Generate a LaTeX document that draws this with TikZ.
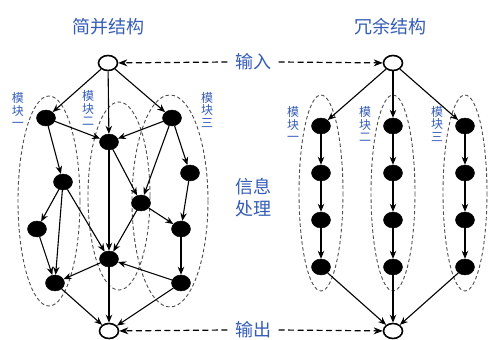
\documentclass[tikz,border=0pt]{standalone}
\usepackage{fontspec}
\newfontfamily\cjk{Noto Sans CJK SC}
\usetikzlibrary{arrows.meta,shapes.geometric}
\definecolor{lblue}{RGB}{52,92,182}
\tikzset{
  dot/.style={ellipse, fill=black, draw=black, minimum width=19pt, minimum height=16pt, inner sep=0pt},
  port/.style={ellipse, fill=white, draw=black, line width=1.6pt, minimum width=19pt, minimum height=15pt, inner sep=0pt},
  edge/.style={line width=1.1pt, -{Stealth[length=8pt,width=6.5pt]}},
  hint/.style={line width=1.2pt, dash pattern=on 6pt off 3.5pt, -{Stealth[length=9pt,width=7pt]}},
  module/.style={draw=black!70, line width=0.9pt, dash pattern=on 3.5pt off 2.5pt},
  title/.style={font=\cjk\fontsize{18}{20}\selectfont, text=lblue},
  side/.style={font=\cjk\fontsize{18}{22}\selectfont, text=lblue, align=center},
  vlabel/.style={font=\cjk\fontsize{12}{12.5}\selectfont, text=lblue, align=center, inner sep=0pt}
}
\begin{document}
\begin{tikzpicture}[x=1pt,y=-1pt]
\useasboundingbox (0,0) rectangle (488,340);
% left module ellipses
\draw[module] (49,201) ellipse [x radius=31, y radius=105];
\draw[module] (119,196) ellipse [x radius=31, y radius=94];
\draw[module] (170,201) ellipse [x radius=38, y radius=106];
% right module ellipses
\draw[module] (321,193) ellipse [x radius=22, y radius=98];
\draw[module] (393,193) ellipse [x radius=22, y radius=98];
\draw[module] (465,193) ellipse [x radius=22, y radius=98];

% titles and labels
\node[title] (t1) at (108,27) {简并结构};
\node[title] (t2) at (390,27) {冗余结构};
\node[side] (lin) at (253,62) {输入};
\node[side] (lout) at (253,330) {输出};
\node[side] (lproc) at (253,198) {信息\\处理};
\node[vlabel] (m1) at (18,110) {模\\块\\一};
\node[vlabel] (m2) at (88,108) {模\\块\\二};
\node[vlabel] (m3) at (207,110) {模\\块\\三};
\node[vlabel] (r1) at (293,124) {模\\块\\一};
\node[vlabel] (r2) at (365,124) {模\\块\\二};
\node[vlabel] (r3) at (437,124) {模\\块\\三};

% left structure nodes
\node[port] (in1) at (108,63) {};
\node[dot] (A) at (46,118) {};
\node[dot] (B) at (109,142) {};
\node[dot] (C) at (172,118) {};
\node[dot] (D) at (63,182) {};
\node[dot] (E) at (190,173) {};
\node[dot] (F) at (141,203) {};
\node[dot] (H) at (37,229) {};
\node[dot] (J) at (181,229) {};
\node[dot] (G) at (109,259) {};
\node[dot] (I) at (55,283) {};
\node[dot] (K) at (181,283) {};
\node[port] (out1) at (109,331) {};

\draw[edge] (in1) -- (A);
\draw[edge] (in1) -- (B);
\draw[edge] (in1) -- (C);
\draw[edge] (A) -- (B);
\draw[edge] (C) -- (B);
\draw[edge] (A) -- (D);
\draw[edge] (C) -- (E);
\draw[edge] (C) -- (F);
\draw[edge] (B) -- (F);
\draw[edge] (B) -- (G);
\draw[edge] (D) -- (H);
\draw[edge] (D) -- (I);
\draw[edge] (D) -- (G);
\draw[edge] (H) -- (I);
\draw[edge] (F) -- (G);
\draw[edge] (F) -- (J);
\draw[edge] (E) -- (J);
\draw[edge] (J) -- (K);
\draw[edge] (K) -- (G);
\draw[edge] (G) -- (I);
\draw[edge] (I) -- (out1);
\draw[edge] (G) -- (out1);
\draw[edge] (K) -- (out1);

% right structure nodes
\node[port] (in2) at (393,63) {};
\node[port] (out2) at (393,331) {};
\foreach \c/\x in {1/321,2/393,3/465}{
  \node[dot] (p\c a) at (\x,126) {};
  \node[dot] (p\c b) at (\x,173) {};
  \node[dot] (p\c c) at (\x,220) {};
  \node[dot] (p\c d) at (\x,267) {};
  \draw[edge] (in2) -- (p\c a);
  \draw[edge] (p\c a) -- (p\c b);
  \draw[edge] (p\c b) -- (p\c c);
  \draw[edge] (p\c c) -- (p\c d);
  \draw[edge] (p\c d) -- (out2);
}

% hint arrows
\draw[hint] (lin.west) ++(-4,0) coordinate (a1) (a1) -- (in1);
\draw[hint] (lin.east) ++(4,0) coordinate (a2) (a2) -- (in2);
\draw[hint] (lout.west) ++(-4,0) coordinate (a3) (a3) -- (out1);
\draw[hint] (lout.east) ++(4,0) coordinate (a4) (a4) -- (out2);
\end{tikzpicture}
\end{document}
